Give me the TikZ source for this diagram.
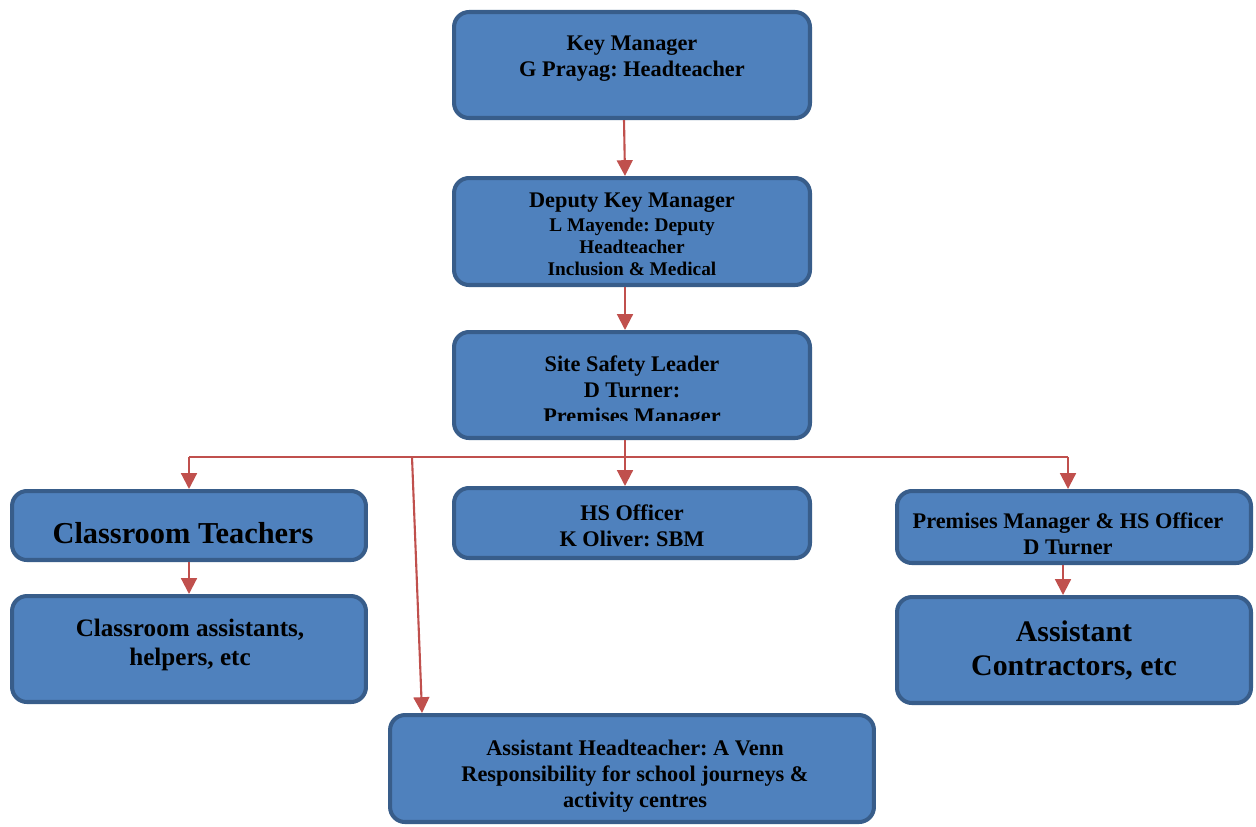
\documentclass[tikz,border=0pt]{standalone}
\usepackage{fontspec}
\setmainfont{Liberation Serif}
\frenchspacing
\usetikzlibrary{arrows.meta}
\definecolor{boxfill}{HTML}{4F81BD}
\definecolor{boxline}{HTML}{385D8A}
\definecolor{linkred}{HTML}{C0504D}
\begin{document}
\begin{tikzpicture}[x=0.02cm,y=-0.02cm,
  box/.style={draw=boxline,fill=boxfill,line width=2.3pt,rounded corners=0.3cm,inner sep=0pt},
  txt/.style={align=center,inner sep=0pt,font=\bfseries\fontsize{12.7}{14.7}\selectfont},
  big/.style={txt,font=\bfseries\fontsize{17.3}{20}\selectfont},
  arr/.style={draw=linkred,line width=1.2pt,-{Triangle[width=9pt,length=9pt]}},
  link/.style={draw=linkred,line width=1.2pt}]
  \useasboundingbox (0,0) rectangle (1256,826);
  % top chain
  \node[box,minimum width=7.12cm,minimum height=2.12cm] (key) at (632,65) {};
  \node[txt] (keytxt) at (632,59) {Key Manager\\G Prayag: Headteacher};
  \node[box,minimum width=7.12cm,minimum height=2.14cm] (deputy) at (632,231.5) {};
  \node[txt,font=\bfseries\fontsize{11}{12.5}\selectfont] (deputytxt) at (632,234)
    {{\fontsize{12.7}{14.7}\selectfont Deputy Key Manager}\\[1.2pt]L Mayende: Deputy\\Headteacher\\Inclusion \& Medical};
  \node[box,minimum width=7.12cm,minimum height=2.12cm] (site) at (632,385) {};
  \begin{scope}
    \clip (452,330) rectangle (812,420);
    \node[txt] (sitetxt) at (632,392) {Site Safety Leader\\D Turner:\\Premises Manager};
  \end{scope}
  % second row
  \node[box,minimum width=7.08cm,minimum height=1.38cm] (teach) at (189,525.5) {};
  \node[big] (teachtxt) at (183,533) {Classroom Teachers};
  \node[box,minimum width=7.12cm,minimum height=1.40cm] (hs) at (632,523) {};
  \node[txt] (hstxt) at (632,526) {HS Officer\\K Oliver: SBM};
  \node[box,minimum width=7.08cm,minimum height=1.44cm] (prem) at (1074,527) {};
  \node[txt] (premtxt) at (1068,534) {Premises Manager \& HS Officer\\D Turner};
  % third row
  \node[box,minimum width=7.08cm,minimum height=2.12cm] (assist) at (189,649) {};
  \node[txt,font=\bfseries\fontsize{14.3}{17}\selectfont] (assisttxt) at (190,645)
    {Classroom assistants,\\helpers, etc};
  \node[box,minimum width=7.08cm,minimum height=2.12cm] (contr) at (1074,650) {};
  \node[big,font=\bfseries\fontsize{17}{19.8}\selectfont] (contrtxt) at (1074,650.5)
    {Assistant\\Contractors, etc};
  \node[box,minimum width=9.68cm,minimum height=2.14cm] (aht) at (632,768.5) {};
  \node[txt] (ahttxt) at (635,776)
    {Assistant Headteacher: A Venn\\Responsibility for school journeys \&\\activity centres};
  % connectors
  \coordinate (busL) at (189,457);
  \coordinate (busR) at (1068,457);
  \coordinate (tap) at (412,457);
  \draw[arr] ([xshift=-0.16cm]key.south) -- ([xshift=-0.14cm]deputy.north);
  \draw[arr] ([xshift=-0.14cm]deputy.south) -- ([xshift=-0.14cm]site.north);
  \draw[arr] ([xshift=-0.14cm]site.south) -- ([xshift=-0.14cm]hs.north);
  \draw[link] (busL) -- (busR);
  \draw[arr] (busL) -- (teach.north);
  \draw[arr] (busR) -- (busR |- prem.north);
  \draw[arr] (tap) -- ([xshift=0.68cm]aht.north west);
  \draw[arr] (teach.south) -- (assist.north);
  \draw[arr] ([xshift=-0.22cm]prem.south) -- ([xshift=-0.22cm]contr.north);
\end{tikzpicture}
\end{document}
